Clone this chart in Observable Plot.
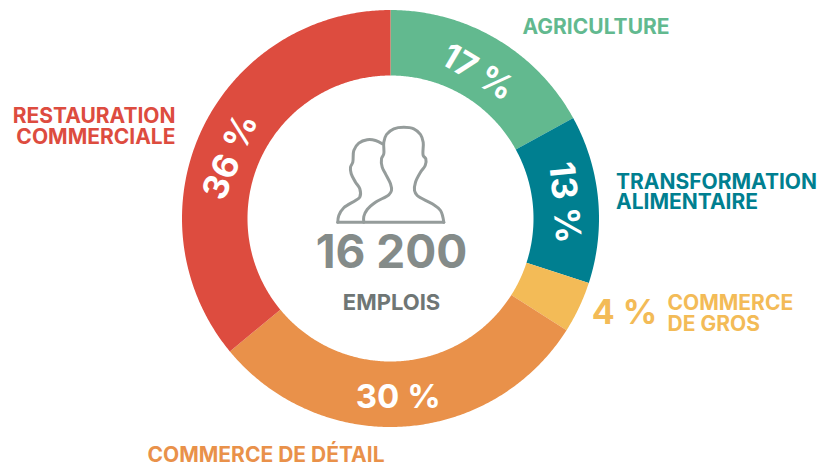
<!DOCTYPE html>
<html lang="fr">
<head>
<meta charset="utf-8">
<script src="https://cdn.jsdelivr.net/npm/d3@7"></script>
<script src="https://cdn.jsdelivr.net/npm/@observablehq/plot@0.6"></script>
<style>
  html, body { margin: 0; padding: 0; background: #fff; }
  svg { display: block; }
</style>
</head>
<body>
<div id="chart"></div>
<script>
// Data
const categories = ["Agriculture", "Transformation alimentaire", "Commerce de gros", "Commerce de détail", "Restauration commerciale"];
const shares = [17, 13, 4, 30, 36];
const colors = ["#62b98f", "#007f90", "#f3bb57", "#e9914a", "#dd4c3f"];
const total = "16 200";
const unit = "EMPLOIS";

// Layout
const W = 818, H = 468, cx = 390.5, cy = 218.5, rOut = 208.5, rIn = 143, rLab = 175;
const FONT = "Inter, Lato, sans-serif";

// Slices from the shares
const sum = d3.sum(shares);
let acc = 0;
const slices = categories.map((name, i) => {
  const a0 = acc / sum * 2 * Math.PI; acc += shares[i];
  const a1 = acc / sum * 2 * Math.PI;
  return {name, value: shares[i], a0, a1, mid: (a0 + a1) / 2};
});
const polar = (a, r) => [cx + r * Math.sin(a), cy - r * Math.cos(a)];
const ring = slices.flatMap(s => {
  const n = Math.ceil((s.a1 - s.a0) / (Math.PI / 360));
  return d3.range(n + 1).map(k => {
    const a = s.a0 + (s.a1 - s.a0) * k / n;
    const [x1, y1] = polar(a, rOut), [x2, y2] = polar(a, rIn);
    return {name: s.name, x1, y1, x2, y2};
  });
});

// Percent labels placed along the ring, following the slice angle
const pctTweak = {
  "Agriculture": {dr: -5, rot: 30.6, fs: 34},
  "Transformation alimentaire": {dr: -1, rot: 84.6, fs: 35},
  "Commerce de détail": {dr: 4, rot: 0, fs: 33, dx: -4},
  "Restauration commerciale": {dr: -3, da: -4, rot: -67, fs: 35}
};
const pctLabels = slices.filter(s => pctTweak[s.name]).map(s => {
  const t = pctTweak[s.name];
  const [x, y] = polar(s.mid + (t.da || 0) * Math.PI / 180, rLab + t.dr);
  return {text: s.value + " %", x: x + (t.dx || 0), y, rotate: t.rot, fs: t.fs};
});

// Outer labels
const outer = [
  {text: "AGRICULTURE", x: 522, y: 27, anchor: "start", c: 0},
  {text: "TRANSFORMATION\nALIMENTAIRE", x: 615.5, y: 191.7, anchor: "start", c: 1},
  {text: "COMMERCE\nDE GROS", x: 667, y: 313.5, anchor: "start", c: 2},
  {text: "COMMERCE DE DÉTAIL", x: 147, y: 455, anchor: "start", c: 3},
  {text: "RESTAURATION\nCOMMERCIALE", x: 175, y: 126.2, anchor: "end", c: 4}
];
const LABEL_SIZE = 21;

// Pictogram outline (two people)
const frontPerson = [[363.3,221.7],[363.3,216],[366.7,209],[375,201.7],[388.3,194.3],[391,190],[390,183.3],[385,173.3],[381.7,166.7],[381,158.3],[383.3,153.3],[383.3,141.7],[386,134],[393.3,128.3],[403.3,126.7],[413.3,128.3],[420,134],[422.7,141.7],[422.7,155],[425.3,158.3],[424.7,165],[420,171.7],[415,181.7],[414,190],[416.7,195],[431.7,203.3],[440,210],[443.3,221.7]];
const backPerson = [[381.7,143.3],[375,140],[366.7,139.3],[358.3,142.7],[353.3,150],[352.3,161.7],[350,166.7],[350.7,173.3],[355,181.7],[359.3,188.3],[359.3,196.7],[355,200],[343.3,207.3],[338.3,215],[337.3,221.7]];
const baseLine = [[337.3,221.7],[443.3,221.7]];
const iconStyle = {x: d => d[0], y: d => d[1], stroke: "#959c9b", strokeWidth: 3, strokeLinejoin: "round", strokeLinecap: "round"};

const textBase = {x: "x", y: "y", text: "text", fontFamily: FONT, lineAnchor: "middle"};
const labelBase = {...textBase, fontSize: LABEL_SIZE, fontWeight: 700, lineHeight: 20.5 / LABEL_SIZE, fill: d => colors[d.c]};

const plot = Plot.plot({
  width: W, height: H,
  margin: 0,
  x: {domain: [0, W], range: [0, W], axis: null},
  y: {domain: [0, H], range: [0, H], axis: null},
  color: {domain: categories, range: colors},
  style: {background: "#fff"},
  marks: [
    Plot.area(ring, {x1: "x1", y1: "y1", x2: "x2", y2: "y2", z: "name", fill: "name", curve: "linear"}),
    Plot.line(backPerson, {...iconStyle, curve: "catmull-rom"}),
    Plot.line(frontPerson, {...iconStyle, curve: "catmull-rom"}),
    Plot.line(baseLine, iconStyle),
    Plot.text(pctLabels, {...textBase, rotate: "rotate", fontSize: d => d.fs, fontWeight: 700, fill: "#fff"}),
    Plot.text(outer.filter(d => d.anchor === "start"), {...labelBase, textAnchor: "start"}),
    Plot.text(outer.filter(d => d.anchor === "end"), {...labelBase, textAnchor: "end"}),
    Plot.text([{text: "4 %", x: 624, y: 313}], {...textBase, fontSize: 34, fontWeight: 700, fill: colors[2]}),
    Plot.text([{text: total, x: 391, y: 253}], {...textBase, fontSize: 46, fontWeight: 700, fill: "#848b89"}),
    Plot.text([{text: unit, x: 391, y: 302}], {...textBase, fontSize: 22, fontWeight: 700, fill: "#6f7675"})
  ]
});
document.getElementById("chart").appendChild(plot);
</script>
</body>
</html>
